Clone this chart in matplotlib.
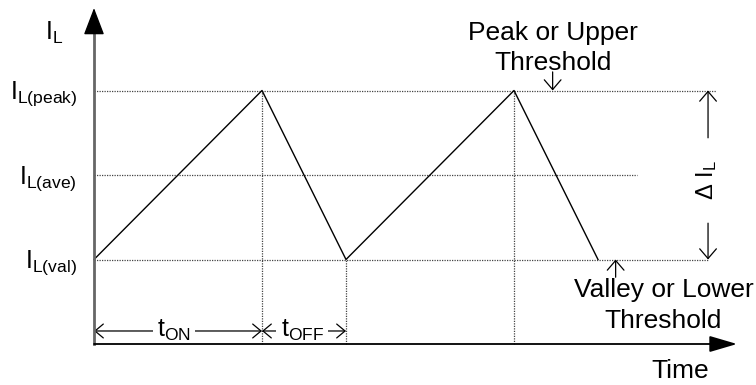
import matplotlib
matplotlib.use('Agg')
import matplotlib.pyplot as plt
from matplotlib.patches import FancyArrowPatch

plt.rcParams['font.family'] = ['Liberation Sans', 'DejaVu Sans']
plt.rcParams['mathtext.fontset'] = 'custom'
plt.rcParams['mathtext.rm'] = 'Liberation Sans'
plt.rcParams['mathtext.it'] = 'Liberation Sans'

# waveform (time in units of t_OFF, current in arbitrary units)
t_wave = [0, 2, 3, 5, 6]
i_wave = [1, 3, 1, 3, 1]

i_peak, i_ave, i_val = 3.0, 2.0, 1.0
level_names = ['peak', 'ave', 'val']
level_vals = [i_peak, i_ave, i_val]
level_ends = [7.4, 6.46, 7.31]

t_on, t_off = 2.0, 1.0
t_marks = [2, 3, 5]            # vertical dotted guides
t_marks_lvl = [3, 1, 3]

t_axis_end = 7.655
i_axis_end = 3.976

peak_note = ['Peak or Upper', 'Threshold']
valley_note = ['Valley or Lower', 'Threshold']


def arrow(ax, a, b, style, lw=1.0, color='black', z=2):
    p = FancyArrowPatch(a, b, arrowstyle=style, mutation_scale=1, lw=lw,
                        color=color, shrinkA=0, shrinkB=0, zorder=z)
    ax.add_patch(p)


fig = plt.figure(figsize=(7.56, 3.85), dpi=100)
ax = fig.add_axes([0, 0, 1, 1])
ax.axis('off')
ax.set_xlim(-94 / 84, (756 - 94) / 84)
ax.set_ylim((344 - 385) / 84.5, 344 / 84.5)

dot = dict(color='#444444', lw=0.9, linestyle=(0, (1, 1)))

# horizontal level lines + labels
for name, lv, end in zip(level_names, level_vals, level_ends):
    ax.plot([0, end], [lv, lv], **dot)
    ax.text(-0.2, lv - 0.1, r'$\mathregular{I_{L(%s)}}$' % name, fontsize=18,
            ha='right', va='baseline')

# vertical guides
for tm, lv in zip(t_marks, t_marks_lvl):
    ax.plot([tm, tm], [0, lv], **dot)

# waveform
ax.plot(t_wave, i_wave, color='black', lw=1.0)

# axes: grey shaft, black head
ax.plot([0, 0], [0, 3.72], color='#666666', lw=2, zorder=4)
arrow(ax, (0, 3.70), (0, i_axis_end), '-|>,head_length=17,head_width=6.5',
      lw=1, z=4)
arrow(ax, (0, 0), (t_axis_end, 0), '-|>,head_length=17,head_width=5',
      lw=1.3, z=4)
ax.text(-0.58, 3.6, r'$\mathregular{I_L}$', fontsize=18, ha='left', va='baseline')
ax.text(6.976, -0.40, 'Time', fontsize=19, ha='center', va='baseline')

# t_ON / t_OFF dimension arrows
y_dim = 0.154
open2 = '<->,head_length=6,head_width=5'
arrow(ax, (0, y_dim), (t_on, y_dim), open2, lw=0.9)
arrow(ax, (t_on, y_dim), (t_on + t_off, y_dim), open2, lw=0.9)
box = dict(facecolor='white', edgecolor='none', pad=3)
ax.text(0.952, 0.083, r'$\mathregular{t_{ON}}$', fontsize=18,
        ha='center', va='baseline', bbox=box, zorder=3)
ax.text(2.48, 0.083, r'$\mathregular{t_{OFF}}$', fontsize=18,
        ha='center', va='baseline', bbox=box, zorder=3)

# delta I_L
open1 = '->,head_length=7,head_width=6'
arrow(ax, (7.31, 2.44), (7.31, i_peak), open1, lw=0.9)
arrow(ax, (7.31, 1.43), (7.31, i_val), open1, lw=0.9)
ax.text(7.29, 1.94, r'$\mathregular{\Delta\ I_L}$', fontsize=17, rotation=90,
        ha='center', va='center')

# threshold annotations
arrow(ax, (5.46, 3.22), (5.46, i_peak), open1, lw=0.9)
for line, y in zip(peak_note, [3.60, 3.24]):
    ax.text(5.46, y, line, fontsize=19, ha='center', va='baseline')
arrow(ax, (6.21, 0.79), (6.21, i_val), open1, lw=0.9)
for line, y in zip(valley_note, [0.556, 0.189]):
    ax.text(6.78, y, line, fontsize=19, ha='center', va='baseline')

fig.savefig('out.png', dpi=100)
